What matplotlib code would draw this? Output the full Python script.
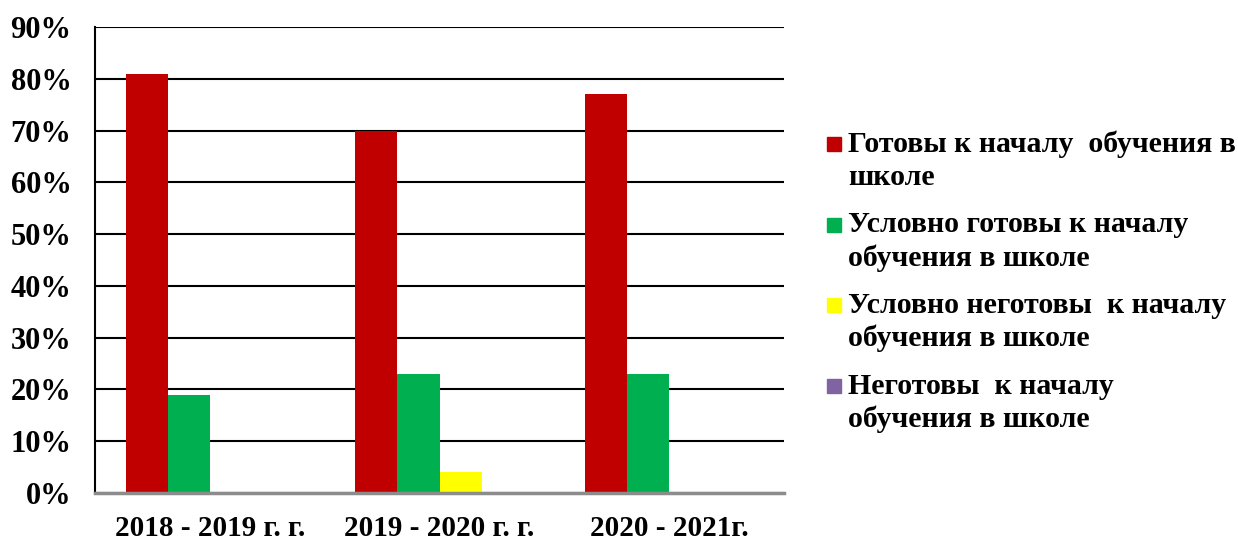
import numpy as np
import matplotlib.pyplot as plt
from matplotlib.patches import Rectangle
from matplotlib.ticker import PercentFormatter

plt.rcParams['font.family'] = ['Liberation Serif', 'DejaVu Serif']
plt.rcParams['font.weight'] = 'bold'

years = ['2018 - 2019 г. г.', '2019 - 2020 г. г.', '2020 - 2021г.']
ready = [81, 70, 77]
cond_ready = [19, 23, 23]
cond_not_ready = [0, 4, 0]
not_ready = [0, 0, 0]

labels = ['Готовы к началу  обучения в\nшколе',
          'Условно готовы к началу\nобучения в школе',
          'Условно неготовы  к началу\nобучения в школе',
          'Неготовы  к началу\nобучения в школе']
colors = ['#C00000', '#00B050', '#FFFF00', '#8064A2']

W, H = 1238, 540
fig = plt.figure(figsize=(W / 100, H / 100), dpi=100)
ax = fig.add_axes([95 / W, 1 - 493 / H, 689 / W, 466 / H])

x = np.arange(len(years))
w = 0.183
series = [ready, cond_ready, cond_not_ready, not_ready]
for i, (vals, lab, c) in enumerate(zip(series, labels, colors)):
    ax.bar(x + (i - 1.5) * w, vals, w, color=c, label=lab, linewidth=0)

ax.set_xlim(-0.5, 2.5)
ax.set_ylim(0, 90)
ax.set_yticks(range(0, 91, 10))
ax.yaxis.set_major_formatter(PercentFormatter(decimals=0))
ax.set_xticks(x)
ax.set_xticklabels(years)
ax.tick_params(axis='both', length=0)
ax.tick_params(axis='y', pad=17, labelsize=22)
ax.tick_params(axis='x', pad=16, labelsize=21)

ax.grid(axis='y', color='black', linewidth=1.5)
ax.set_axisbelow(True)
for s in ['top', 'right']:
    ax.spines[s].set_visible(False)
ax.spines['left'].set_color('black')
ax.spines['left'].set_linewidth(1.5)
ax.spines['bottom'].set_color('#8c8c8c')
ax.spines['bottom'].set_linewidth(2.5)

# legend drawn by hand: square next to the first line of each label
for i, (lab, c) in enumerate(zip(labels, colors)):
    yc = 144 + 80.5 * i
    fig.patches.append(Rectangle((827 / W, 1 - (yc + 7) / H), 14 / W, 14 / H,
                                 color=c, transform=fig.transFigure))
    fig.text(848 / W, 1 - (yc - 13) / H, lab, fontsize=21.5, va='top', ha='left',
             linespacing=1.27)

fig.savefig('out.png', dpi=100)
